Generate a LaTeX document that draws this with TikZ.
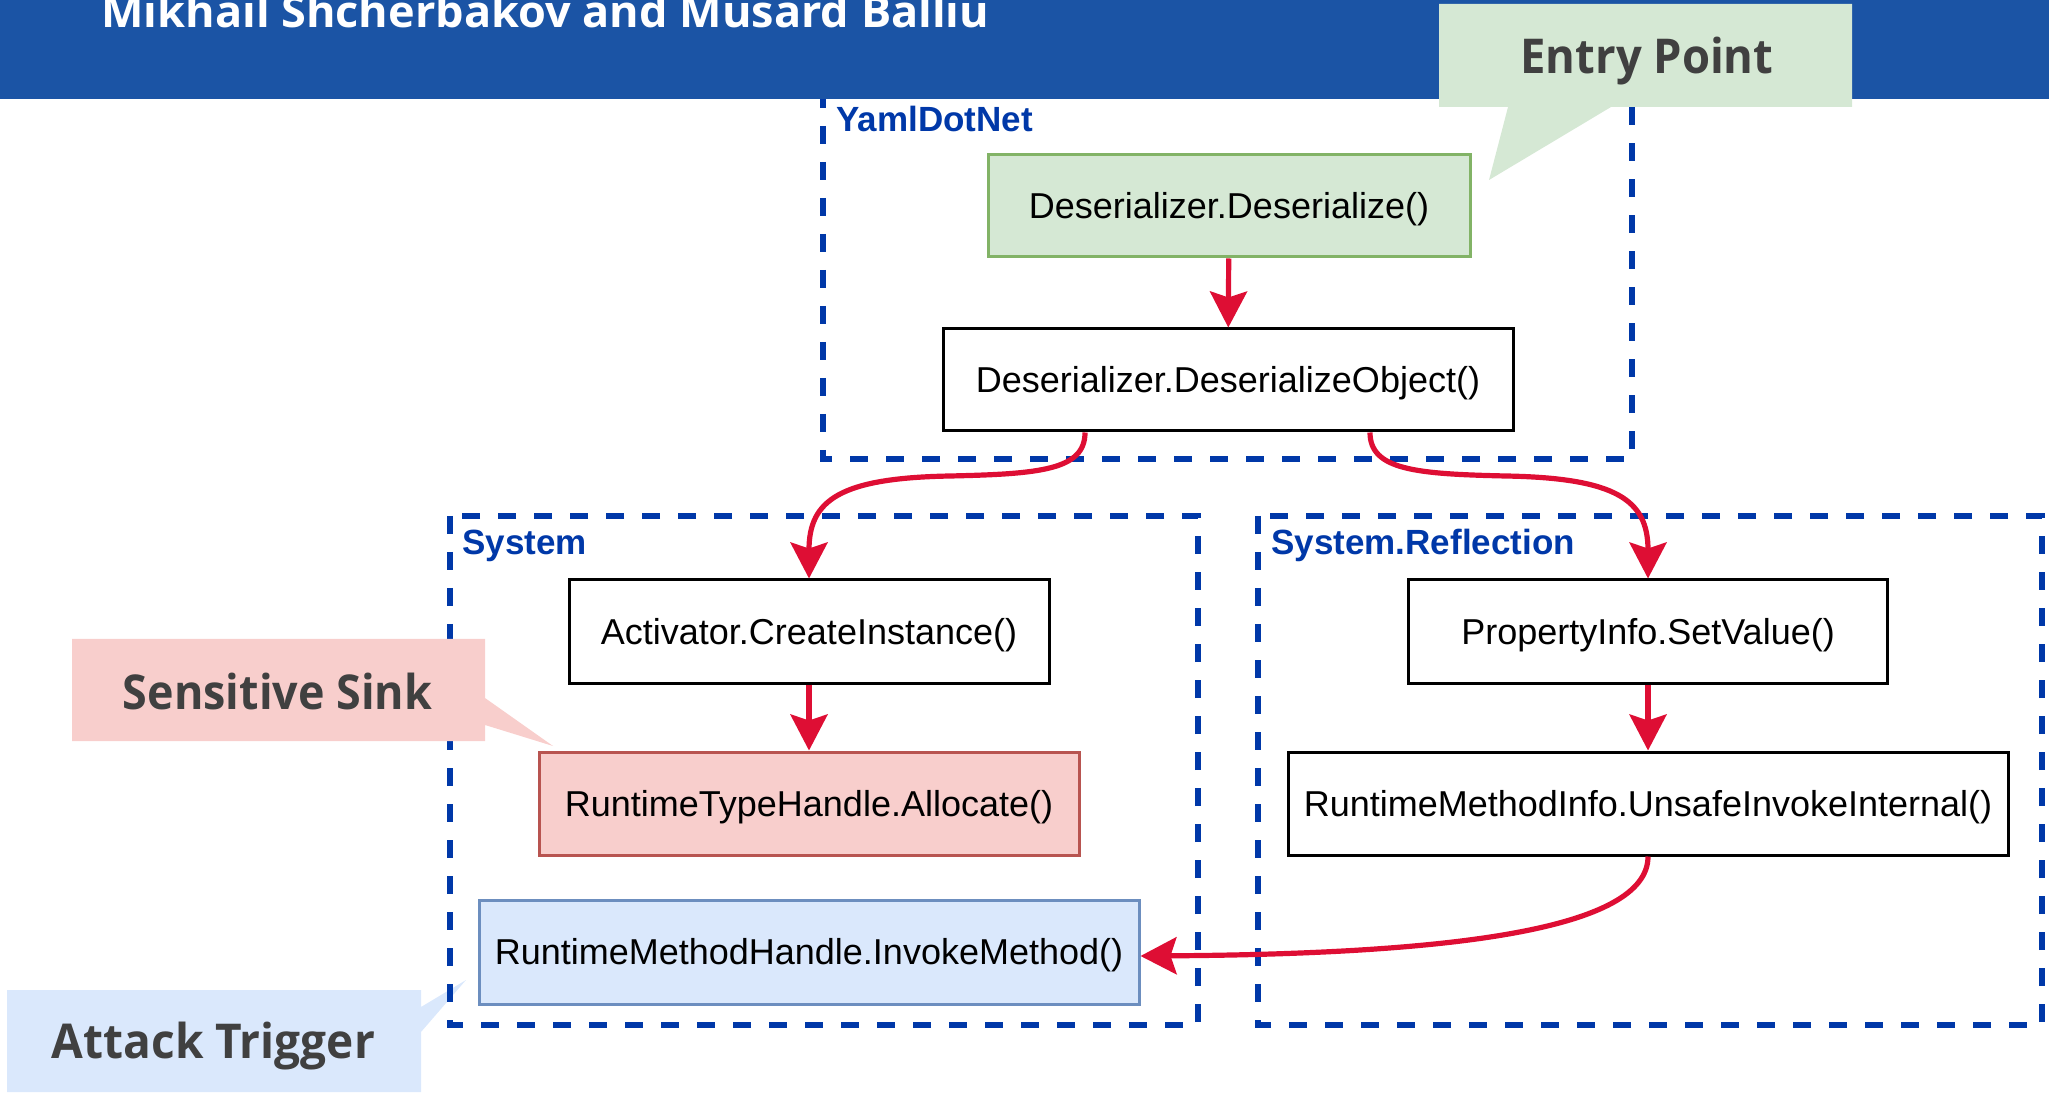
\documentclass[tikz,border=0pt]{standalone}
\usepackage{fontspec}
\usepackage{graphicx}
\setmainfont{Liberation Sans}
\newfontfamily\calloutfont{Open Sans}
\usetikzlibrary{arrows.meta}

\definecolor{barblue}{RGB}{27,84,165}
\definecolor{pkgblue}{RGB}{0,56,168}
\definecolor{flowred}{RGB}{222,14,52}
\definecolor{calltext}{HTML}{404040}
\definecolor{entryfill}{HTML}{D5E8D4}
\definecolor{entryline}{HTML}{82B366}
\definecolor{sinkfill}{HTML}{F8CECC}
\definecolor{sinkline}{HTML}{B85450}
\definecolor{trigfill}{HTML}{DAE8FC}
\definecolor{trigline}{HTML}{6C8EBF}

\tikzset{
  fn/.style={draw=black, line width=1.5pt, fill=white, inner sep=0pt,
    minimum height=51.5pt, text height=12.9pt, text depth=0pt,
    font=\fontsize{18}{22}\selectfont},
  pkg/.style={draw=pkgblue, line width=3pt, dash pattern=on 9pt off 9pt},
  pkglabel/.style={text=pkgblue, anchor=base west, inner sep=0pt,
    font=\bfseries\fontsize{17.5}{21}\selectfont},
  flow/.style={draw=flowred, line width=2.6pt,
    -{Stealth[length=18pt,width=18.5pt,inset=3pt]}},
  calltxt/.style={text=calltext, anchor=base, inner sep=0pt}
}

\newcommand{\callout}[2]{\resizebox{#1}{\height}{\calloutfont\bfseries\fontsize{24}{28}\selectfont #2}}

\begin{document}
\begin{tikzpicture}[x=0.5pt,y=-0.5pt]
\useasboundingbox (0,0) rectangle (2049,1095);

% attack trigger callout (sits beneath the package outline)
\fill[trigfill] (7,990) -- (421,990) -- (421,1007) -- (466,980) -- (421,1032)
  -- (421,1092) -- (7,1092) -- cycle;
\node[calltxt] (trigtxt) at (213.5,1058) {\callout{161.5pt}{Attack Trigger}};

% package outlines
\draw[pkg] (823,90) rectangle (1632,459);
\draw[pkg] (450,516) rectangle (1198,1025);
\draw[pkg] (1258,516) rectangle (2042,1025);
\node[pkglabel] (lyaml) at (836,132) {YamlDotNet};
\node[pkglabel] (lsys) at (462,555) {System};
\node[pkglabel] (lrefl) at (1271,555) {System.Reflection};

% header bar
\fill[barblue] (0,0) rectangle (2049,99);
\node[anchor=base west, inner sep=0pt, text=white] (title) at (101,28)
  {\resizebox{444pt}{\height}{\calloutfont\bfseries\fontsize{22}{26}\selectfont Mikhail Shcherbakov and Musard Balliu}};

% entry point callout
\fill[entryfill] (1439,4) -- (1852,4) -- (1852,107) -- (1611,107) -- (1489,180)
  -- (1508,107) -- (1439,107) -- cycle;
\node[calltxt] (entrytxt) at (1647,74) {\callout{126.5pt}{Entry Point}};

% method nodes
\node[fn, draw=entryline, fill=entryfill, minimum width=241pt, minimum height=51pt] (ds) at (1229,206) {Deserializer.Deserialize()};
\node[fn, minimum width=285pt, minimum height=51pt] (dso) at (1228,380) {Deserializer.DeserializeObject()};
\node[fn, minimum width=240pt] (act) at (809,631.5) {Activator.CreateInstance()};
\node[fn, draw=sinkline, fill=sinkfill, minimum width=270pt] (alloc) at (809,803.5) {RuntimeTypeHandle.Allocate()};
\node[fn, draw=trigline, fill=trigfill, minimum width=330pt, minimum height=52pt] (inv) at (809,952) {RuntimeMethodHandle.InvokeMethod()};
\node[fn, minimum width=239.5pt] (prop) at (1648,631.5) {PropertyInfo.SetValue()};
\node[fn, minimum width=360pt] (unsafe) at (1648,803.5) {RuntimeMethodInfo.UnsafeInvokeInternal()};

% call flow
\draw[flow] (ds) -- (dso);
\draw[flow] ([xshift=-71.5pt]dso.south) .. controls (1085,470) and (1040,474) .. (950,476)
  .. controls (840,478) and (809,500) .. (act.north);
\draw[flow] ([xshift=71pt]dso.south) .. controls (1370,470) and (1416,474) .. (1506,476)
  .. controls (1616,478) and (1648,500) .. (prop.north);
\draw[flow] (act) -- (alloc);
\draw[flow] (prop) -- (unsafe);
\draw[flow] (unsafe.south) .. controls (1648,930) and (1450,954) .. ([yshift=-2pt]inv.east);

% sensitive sink callout
\fill[sinkfill] (72,639) -- (485,639) -- (485,698) -- (553,746) -- (485,725)
  -- (485,741) -- (72,741) -- cycle;
\node[calltxt] (sinktxt) at (277.5,709) {\callout{154.5pt}{Sensitive Sink}};
\end{tikzpicture}
\end{document}
